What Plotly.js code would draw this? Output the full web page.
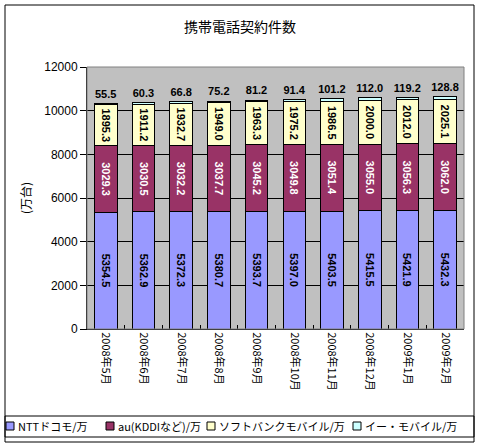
<!DOCTYPE html>
<html>
<head>
<meta charset="utf-8">
<script src="https://cdn.plot.ly/plotly-3.0.1.min.js"></script>
<style>
  body { margin: 0; background: #fff; }
  #chart { width: 480px; height: 447px; }
</style>
</head>
<body>
<div id="chart"></div>
<script>
/*
 Data
*/

var months = ["2008年5月", "2008年6月", "2008年7月", "2008年8月", "2008年9月",
              "2008年10月", "2008年11月", "2008年12月", "2009年1月", "2009年2月"];

var docomo = [5354.5, 5362.9, 5372.3, 5380.7, 5393.7, 5397.0, 5403.5, 5415.5, 5421.9, 5432.3];
var au = [3029.3, 3030.5, 3032.2, 3037.7, 3045.2, 3049.8, 3051.4, 3055.0, 3056.3, 3062.0];
var softbank = [1895.3, 1911.2, 1932.7, 1949.0, 1963.3, 1975.2, 1986.5, 2000.0, 2012.0, 2025.1];
var emobile = [55.5, 60.3, 66.8, 75.2, 81.2, 91.4, 101.2, 112.0, 119.2, 128.8];

var names = ["NTTドコモ/万", "au(KDDIなど)/万", "ソフトバンクモバイル/万", "イー・モバイル/万"];
var colors = ["#9999FF", "#993366", "#FFFFCC", "#CCFFFF"];
var yTicks = [0, 2000, 4000, 6000, 8000, 10000, 12000];

/*
 Chart
*/

var font = "Liberation Sans, Noto Sans CJK JP, sans-serif";
var jp = "Noto Sans CJK JP";

function inside(y, i, textColor) {
  return {
    x: months,
    y: y,
    name: names[i],
    type: "bar",
    marker: { color: colors[i], line: { color: "#000", width: 1 } },
    texttemplate: "%{y:.1f}",
    textposition: "inside",
    insidetextanchor: "middle",
    textangle: 90,
    textfont: { family: font, size: 11, color: textColor, weight: "bold" },
    hoverinfo: "skip"
  };
}

var trace1 = inside(docomo, 0, "#000");
var trace2 = inside(au, 1, "#fff");
var trace3 = inside(softbank, 2, "#000");

var trace4 = {
  x: months,
  y: emobile,
  name: names[3],
  type: "bar",
  marker: { color: colors[3], line: { color: "#000", width: 1 } },
  texttemplate: "%{y:.1f}",
  textposition: "outside",
  textangle: 0,
  cliponaxis: false,
  textfont: { family: font, size: 12, color: "#000", weight: "bold" },
  hoverinfo: "skip"
};

var data = [trace1, trace2, trace3, trace4];

// plot area is 87..464 x 67..329 px
function px(x) { return (x - 87) / 377; }
function py(y) { return (329 - y) / 262; }

var shapes = [
  { type: "rect", xref: "paper", yref: "paper", x0: px(5), x1: px(474), y0: py(442), y1: py(5),
    line: { color: "#000", width: 1 }, layer: "below" },
  { type: "rect", xref: "paper", yref: "paper", x0: px(5), x1: px(474), y0: py(437), y1: py(416),
    line: { color: "#000", width: 1 } },
  { type: "rect", xref: "paper", yref: "paper", x0: 0, x1: 1, y0: 0, y1: 1,
    line: { color: "#808080", width: 1 } }
];

// legend drawn by hand so it fits on one row like the original
var annotations = [];
var legendX = [6, 106, 207, 353];
names.forEach(function(n, i) {
  shapes.push({
    type: "rect", xref: "paper", yref: "paper",
    x0: px(legendX[i]), x1: px(legendX[i] + 8), y0: py(430), y1: py(422),
    fillcolor: colors[i], line: { color: "#000", width: 1 }
  });
  annotations.push({
    xref: "paper", yref: "paper", x: px(legendX[i] + 10), y: py(426),
    xanchor: "left", yanchor: "middle", showarrow: false,
    text: n, font: { family: jp, size: 11, color: "#000" }
  });
});

var layout = {
  width: 480,
  height: 447,
  barmode: "stack",
  bargap: 0.4,
  showlegend: false,
  margin: { l: 87, r: 16, t: 67, b: 118 },
  paper_bgcolor: "#fff",
  plot_bgcolor: "#C0C0C0",
  font: { family: font, size: 11, color: "#000" },
  uniformtext: { mode: "show", minsize: 11 },
  title: {
    text: "携帯電話契約件数",
    font: { family: jp, size: 14, color: "#000" },
    x: 0.5, xref: "container",
    y: 1 - 27 / 447, yref: "container", yanchor: "middle"
  },
  xaxis: {
    type: "category",
    tickangle: 90,
    ticks: "inside",
    tickson: "boundaries",
    ticklen: 4,
    tickcolor: "#000",
    showline: true,
    linecolor: "#000",
    tickfont: { family: jp, size: 11 },
    automargin: false
  },
  yaxis: {
    range: [0, 12000],
    tickvals: yTicks,
    ticktext: yTicks.map(String),
    ticks: "outside",
    ticklen: 6,
    tickcolor: "#000",
    showline: true,
    linecolor: "#000",
    showgrid: true,
    gridcolor: "#000",
    gridwidth: 1,
    zeroline: false,
    tickfont: { family: font, size: 12 },
    title: { text: "(万台)", font: { family: jp, size: 12 }, standoff: 10 },
    automargin: false
  },
  shapes: shapes,
  annotations: annotations
};

var config = { displayModeBar: false, staticPlot: true };

Plotly.newPlot("chart", data, layout, config);
</script>
</body>
</html>
